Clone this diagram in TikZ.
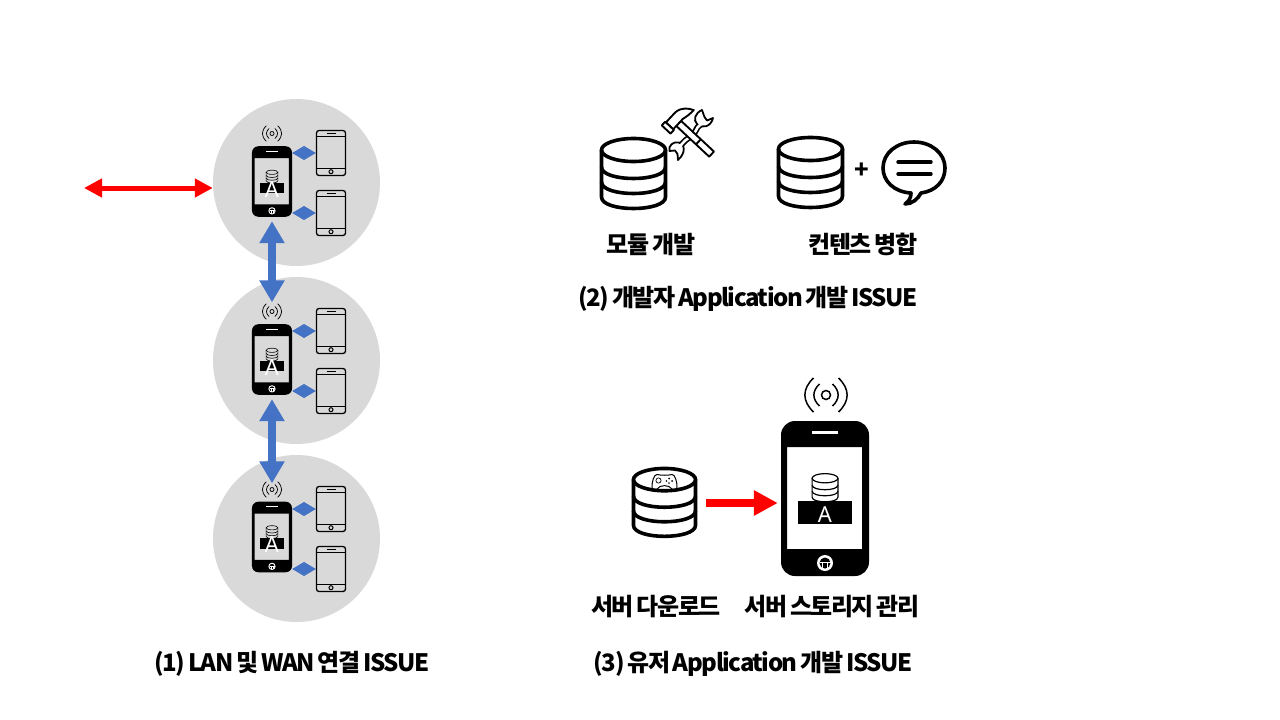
\documentclass[tikz,border=0pt]{standalone}
\usepackage{fontspec}
\usetikzlibrary{arrows.meta}
\newfontfamily\kr[LetterSpace=-6,WordSpace=0.7]{Noto Sans CJK KR}
\newfontfamily\lat{Noto Sans}
\definecolor{discgray}{HTML}{D9D9D9}
\definecolor{flowblue}{HTML}{4472C4}
\tikzset{
  x=1pt,y=-1pt,
  disc/.style={circle,fill=discgray,minimum size=167pt,inner sep=0pt},
  label/.style={font=\kr\bfseries\fontsize{24}{28}\selectfont,text=black,inner sep=0pt},
  tabletbox/.style={draw=black,line width=1.3pt,rounded corners=2.5pt,minimum width=29pt,minimum height=45pt,inner sep=0pt},
  lettera/.style={font=\lat\fontsize{22}{24}\selectfont,text=white,inner sep=0pt},
  bluebig/.style={line width=8pt,draw=flowblue,{Triangle[length=22pt,width=24pt]}-{Triangle[length=22pt,width=24pt]}},
  bluesmall/.style={line width=1pt,draw=flowblue,{Triangle[length=12pt,width=14pt]}-{Triangle[length=12pt,width=14pt]}},
  reddouble/.style={line width=5pt,draw=red,{Triangle[length=18pt,width=18pt]}-{Triangle[length=18pt,width=18pt]}},
  redsingle/.style={line width=8pt,draw=red,-{Triangle[length=24pt,width=24pt]}},
}
% database cylinder: origin at top centre, 67 x 73 units
\newcommand\dbicon[4]{% cx, top, scale, line width
  \begin{scope}[shift={(#1,#2)},scale=#3,line width=#4pt,black]
    \draw (0,13) ellipse [x radius=32,y radius=11.5];
    \draw (-32,13) -- (-32,60) .. controls (-32,75.3) and (32,75.3) .. (32,60) -- (32,13);
    \draw (-32,30) .. controls (-32,45.3) and (32,45.3) .. (32,30);
    \draw (-32,45) .. controls (-32,60.3) and (32,60.3) .. (32,45);
  \end{scope}}
\newcommand\signalicon[4]{% cx, cy, scale, line width
  \begin{scope}[shift={(#1,#2)},scale=#3,line width=#4pt,black]
    \draw (0,0) circle [radius=4.5];
    \draw (-6.5,-11) .. controls (-14,-4) and (-14,4) .. (-6.5,11);
    \draw (6.5,-11) .. controls (14,-4) and (14,4) .. (6.5,11);
    \draw (-12.5,-17) .. controls (-24,-6) and (-24,6) .. (-12.5,17);
    \draw (12.5,-17) .. controls (24,-6) and (24,6) .. (12.5,17);
  \end{scope}}
\newcommand\phoneicon[4]{% cx, cy, scale, db line width
  \begin{scope}[shift={(#1,#2)},scale=#3]
    \fill[black,even odd rule] [rounded corners=14*#3] (-44,-77.5) rectangle (44,77.5)
       [sharp corners] (-38,-51.5) rectangle (37,50.5);
    \fill[white] (-13,-67.5) rectangle (13,-65);
    \fill[white] (0,64.5) circle [radius=8];
    \fill[black] (0,64.5) circle [radius=5.5];
    \draw[white,line width=#3*1pt] (-5.5,64) -- (5.5,64) (-2.5,64) -- (-2.5,71) (2.5,64) -- (2.5,71);
    \fill[black] (-27,2.5) rectangle (27,25.5);
    \dbicon{0}{-25.5}{0.403}{#4}
  \end{scope}}
\newcommand\tableticon[3]{% name, cx, cy
  \node[tabletbox] (#1) at (#2,#3) {};
  \begin{scope}[shift={(#2,#3)},black]
    \draw[line width=1pt] (-14.5,-17) -- (14.5,-17) (-14.5,15) -- (14.5,15);
    \draw[line width=0.8pt] (-4.5,-20) -- (4.5,-20);
    \draw[line width=1pt] (0,18.7) circle [radius=2];
  \end{scope}}
\begin{document}
\begin{tikzpicture}
\useasboundingbox (0,0) rectangle (1280,720);
\fill[white] (0,0) rectangle (1280,720);
% discs
\node[disc] (d1) at (296.5,182.5) {};
\node[disc] (d2) at (296.5,360.5) {};
\node[disc] (d3) at (296.5,538.5) {};
% small phones
\foreach \n/\yy/\ty in {1/181.5/0,2/359.5/178,3/537/356}{
  \node[inner sep=0pt,minimum width=40pt,minimum height=71pt] (ph\n) at (272,\yy) {};
  \phoneicon{272}{\yy}{0.455}{0.6}
  \node[lettera] (a\n) at (272,\yy+8) {A};
  \node[inner sep=0pt,minimum width=20pt,minimum height=14pt] (sg\n) at (272,133.5+\ty) {};
  \signalicon{272}{133.5+\ty}{0.455}{0.75}
  \tableticon{ta\n}{331}{153+\ty}
  \tableticon{tb\n}{331}{213+\ty}
  \draw[bluesmall] (ph\n.east |- ta\n.west) -- (ta\n.west);
  \draw[bluesmall] (ph\n.east |- tb\n.west) -- (tb\n.west);
}
% links
\coordinate (wan) at (84,188);
\draw[reddouble] (wan) -- (d1.west |- wan);
\draw[bluebig,shorten <=4pt,shorten >=2pt] (ph1.south) -- (sg2.north);
\draw[bluebig,shorten <=4pt,shorten >=-1pt] (ph2.south) -- (sg3.north);
% section 2
\node[inner sep=0pt,minimum width=67pt,minimum height=73pt] (db1) at (633.5,173.5) {};
\dbicon{633.5}{137}{1}{3.6}
\node[inner sep=0pt,minimum width=67pt,minimum height=73pt] (db2) at (810.5,172.5) {};
\dbicon{810.5}{136}{1}{3.6}
\node[font=\kr\bfseries\fontsize{24}{26}\selectfont,inner sep=0pt] (plus) at (861.5,171) {+};
% wrench
\begin{scope}[line join=round]
  \draw[black,line width=6pt] (700,125) .. controls (695,128) and (697,133) .. (690,137) .. controls (686,139) and (685,141) .. (680,146);
  \draw[black,line width=1.8pt,fill=white] (702,110) .. controls (695,113) and (693,120) .. (697,124) .. controls (702,129) and (711,127) .. (713,118) -- (707,120.5) -- (704.5,117) -- cycle;
  \draw[black,line width=1.8pt,fill=white] (669.5,151) .. controls (668,146) and (673,141) .. (679,142.5) .. controls (685,144) and (686,153) .. (678,160) -- (677.5,154) -- (675,150.5) -- cycle;
  \draw[white,line width=2.6pt] (701,124) .. controls (695,128) and (697,133) .. (690,137) .. controls (686,139) and (685,141) .. (679,147);
\end{scope}
% hammer
\begin{scope}[shift={(675,120)},rotate=-43,line join=round,line width=1.9pt,black]
  \draw[fill=white] (5,-3.5) -- (50,-3.5) -- (50,3.5) -- (5,3.5) -- cycle;
  \draw (32,-3.5) -- (32,3.5);
  \draw[fill=white] (-5,8) -- (-5,-6) .. controls (-4,-14) and (2,-18) .. (7,-20) .. controls (7,-15) and (6,-10) .. (5,-6) -- (5,8) -- cycle;
  \draw[fill=white] (-6,8) rectangle (6,13);
\end{scope}
% speech bubble
\node[inner sep=0pt,minimum width=64pt,minimum height=52pt] (bub) at (914,168) {};
\draw[black,line width=3.6pt,line join=round,fill=white]
  (921,193) .. controls (936,191) and (945,181) .. (945,168)
  .. controls (945,153) and (931,142) .. (914,142)
  .. controls (897,142) and (883,153) .. (883,168)
  .. controls (883,181) and (894,192) .. (911,193)
  .. controls (911,198) and (909,201) .. (905,204)
  .. controls (912,204) and (918,199) .. (921,193) -- cycle;
\draw[black,line width=3.4pt,line cap=round] (898,162) -- (931,162) (898,174) -- (931,174);
% section 3
\node[inner sep=0pt,minimum width=65pt,minimum height=71pt] (db3) at (664.5,503) {};
\dbicon{664.5}{467}{0.97}{3.6}
% game controller
\begin{scope}[black,line width=1pt,line join=round]
  \draw (657,474.5) .. controls (661,475.5) and (668,475.5) .. (672,474.5)
    .. controls (675,474) and (677.5,483) .. (677,488)
    .. controls (677,491.5) and (674,491.5) .. (672,489)
    .. controls (669,484.5) and (660,484.5) .. (657,489)
    .. controls (655,491.5) and (652,491.5) .. (652,488)
    .. controls (651.5,483) and (654,474) .. (657,474.5) -- cycle;
  \draw[line width=0.7pt] (658.5,480.5) circle [radius=2.6];
  \fill (669,478.5) circle [radius=1] (672,481) circle [radius=1] (669,483) circle [radius=0.9] (666.5,481) circle [radius=0.9];
\end{scope}
% big phone
\node[inner sep=0pt,minimum width=88pt,minimum height=155pt] (bigph) at (825,498.5) {};
\phoneicon{825}{498.5}{1}{1.2}
\node[lettera] (biga) at (825,514.5) {A};
\signalicon{826}{395}{1}{1.5}
\draw[redsingle,shorten <=9pt,shorten >=3pt] (db3.east) -- (db3.east -| bigph.west);
% labels
\node[label] (l1) at (651,244) {모듈 개발};
\node[label] (l2) at (863,244) {컨텐츠 병합};
\node[label] (l3) at (748,298.5) {(2) 개발자 Application 개발 ISSUE};
\node[label] (l4) at (656,607) {서버 다운로드};
\node[label] (l5) at (832,607) {서버 스토리지 관리};
\node[label] (l6) at (753,663.5) {(3) 유저 Application 개발 ISSUE};
\node[label] (l7) at (292,663.5) {(1) LAN 및 WAN 연결 ISSUE};
\end{tikzpicture}
\end{document}
